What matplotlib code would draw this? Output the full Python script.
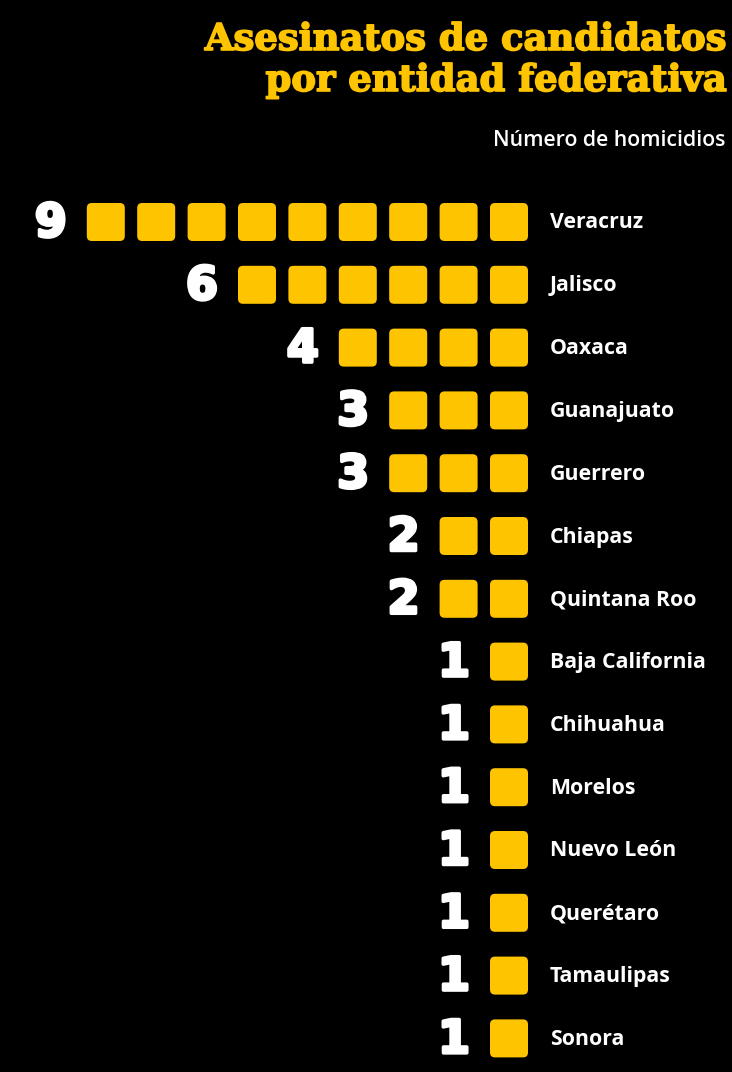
import matplotlib.pyplot as plt
import matplotlib.patheffects as pe
from matplotlib.patches import FancyBboxPatch

# data
estados = ["Veracruz", "Jalisco", "Oaxaca", "Guanajuato", "Guerrero", "Chiapas",
           "Quintana Roo", "Baja California", "Chihuahua", "Morelos", "Nuevo León",
           "Querétaro", "Tamaulipas", "Sonora"]
homicidios = [9, 6, 4, 3, 3, 2, 2, 1, 1, 1, 1, 1, 1, 1]

AMARILLO = "#FFC400"
FONDO = "#000000"

fig = plt.figure(figsize=(7.32, 10.72), dpi=100, facecolor=FONDO)
ax = fig.add_axes([0, 0, 1, 1])
ax.set_facecolor(FONDO)
ax.set_xlim(0, 732)
ax.set_ylim(1072, 0)
ax.axis("off")

# pixel-like layout
right_edge = 528     # right edge of last square
size = 38
step = 50.4
y0 = 222
dy = 62.8

for i, (estado, n) in enumerate(zip(estados, homicidios)):
    yc = y0 + i * dy
    for k in range(n):
        x_left = right_edge - size - k * step
        box = FancyBboxPatch((x_left + 5, yc - size / 2 + 5), size - 10, size - 10,
                             boxstyle="round,pad=5", facecolor=AMARILLO,
                             edgecolor="none")
        ax.add_patch(box)
    first_left = right_edge - size - (n - 1) * step
    ax.text(first_left - 36, yc + 2, str(n), color="white", fontsize=33,
            fontweight="bold", ha="center", va="center", family="DejaVu Sans",
            path_effects=[pe.withStroke(linewidth=2.5, foreground="white")])
    ax.text(550, yc + 1, estado, color="white", fontsize=15.3, fontweight="bold",
            ha="left", va="center", family="Open Sans")

# titles
ax.text(726, 50, "Asesinatos de candidatos", color=AMARILLO, fontsize=26.6,
        fontweight="bold", ha="right", va="baseline", family="DejaVu Serif",
        path_effects=[pe.withStroke(linewidth=1.2, foreground=AMARILLO)])
ax.text(726, 91, "por entidad federativa", color=AMARILLO, fontsize=26.6,
        fontweight="bold", ha="right", va="baseline", family="DejaVu Serif",
        path_effects=[pe.withStroke(linewidth=1.2, foreground=AMARILLO)])
ax.text(725, 140, "Número de homicidios", color="white", fontsize=15.3,
        fontweight="semibold", ha="right", va="center", family="Open Sans")

fig.savefig("out.png", dpi=100, facecolor=FONDO)
